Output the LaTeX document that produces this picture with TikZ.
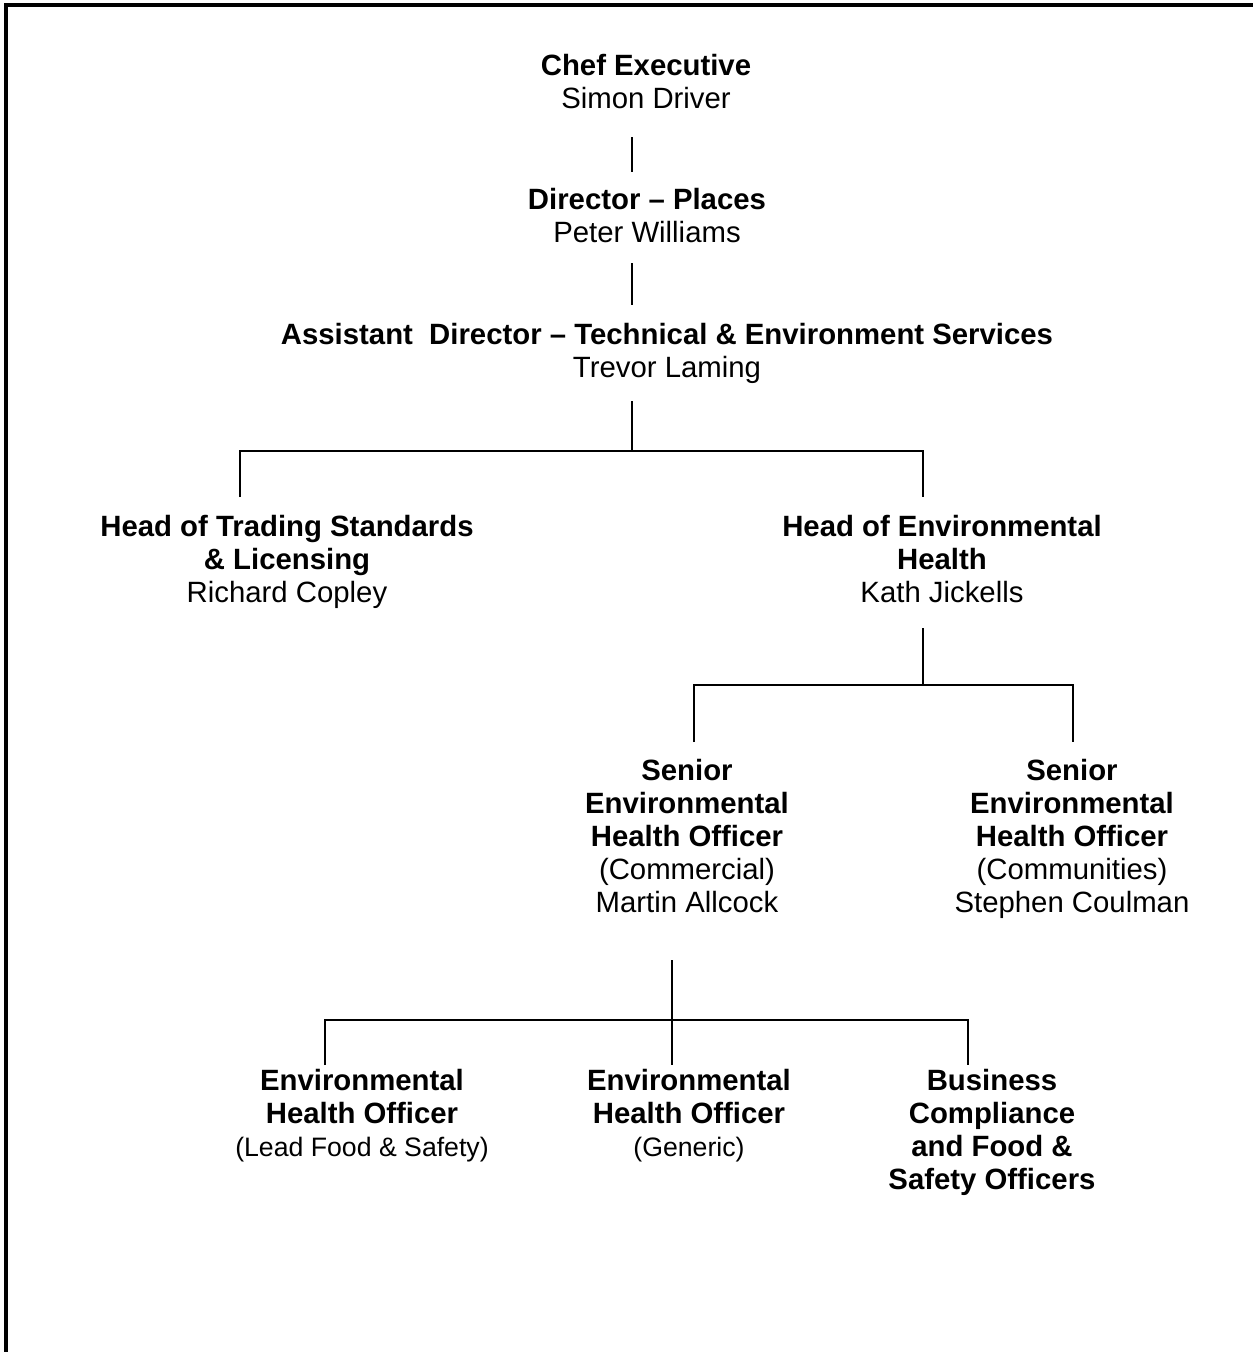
\documentclass[tikz,border=0pt]{standalone}
\usepackage{fontspec}
\setmainfont{Liberation Sans}
\begin{document}
\begin{tikzpicture}[x=0.6pt,y=-0.6pt,
  every node/.style={inner sep=0pt, align=center, font=\fontsize{17.6}{19.8}\selectfont},
  link/.style={line width=1.2pt},
  frame/.style={line width=2pt}]
\useasboundingbox (0,0) rectangle (1253,1352);
\draw[frame] (6,1352) -- (6,5) -- (1253,5);

\newcommand{\smalltext}[1]{{\fontsize{16}{19.8}\selectfont #1}}

\node (ce) at (646,81.5) {\textbf{Chef Executive}\\Simon Driver};
\node (dp) at (647,215.5) {\textbf{Director -- Places}\\Peter Williams};
\node (ad) at (667,353.5) {\textbf{Assistant\ \ Director -- Technical \& Environment Services}\\Trevor Laming};
\node (hts) at (287,562) {\textbf{Head of Trading Standards}\\\textbf{\& Licensing}\\Richard Copley};
\node (heh) at (942,559) {\textbf{Head of Environmental}\\\textbf{Health}\\Kath Jickells};
\node (seoc) at (687,836) {\textbf{Senior}\\\textbf{Environmental}\\\textbf{Health Officer}\\(Commercial)\\Martin Allcock};
\node (seom) at (1072,839) {\textbf{Senior}\\\textbf{Environmental}\\\textbf{Health Officer}\\(Communities)\\Stephen Coulman};
\node (eh1) at (362,1116) {\textbf{Environmental}\\\textbf{Health Officer}\\\smalltext{(Lead Food \& Safety)}};
\node (eh2) at (689,1116) {\textbf{Environmental}\\\textbf{Health Officer}\\\smalltext{(Generic)}};
\node (bc) at (992,1132.5) {\textbf{Business}\\\textbf{Compliance}\\\textbf{and Food \&}\\\textbf{Safety Officers}};

% connector coordinates
\coordinate (c1a) at (632,137);  \coordinate (c1b) at (632,172);
\coordinate (c2a) at (632,263);  \coordinate (c2b) at (632,305);
\coordinate (c3a) at (632,401);  \coordinate (c3j) at (632,451);
\coordinate (c3l) at (240,497);  \coordinate (c3r) at (923,497);
\coordinate (c4a) at (923,628);  \coordinate (c4j) at (923,685);
\coordinate (c4l) at (694,742);  \coordinate (c4r) at (1073,742);
\coordinate (c5a) at (672,960);  \coordinate (c5j) at (672,1020);
\coordinate (c5l) at (325,1065); \coordinate (c5m) at (672,1065); \coordinate (c5r) at (968,1065);

\draw[link] (c1a) -- (c1b);
\draw[link] (c2a) -- (c2b);
\draw[link] (c3a) -- (c3j);
\draw[link] (c3l) -- (c3l |- c3j) -- (c3r |- c3j) -- (c3r);
\draw[link] (c4a) -- (c4j);
\draw[link] (c4l) -- (c4l |- c4j) -- (c4r |- c4j) -- (c4r);
\draw[link] (c5a) -- (c5m);
\draw[link] (c5l) -- (c5l |- c5j) -- (c5r |- c5j) -- (c5r);
\end{tikzpicture}
\end{document}
